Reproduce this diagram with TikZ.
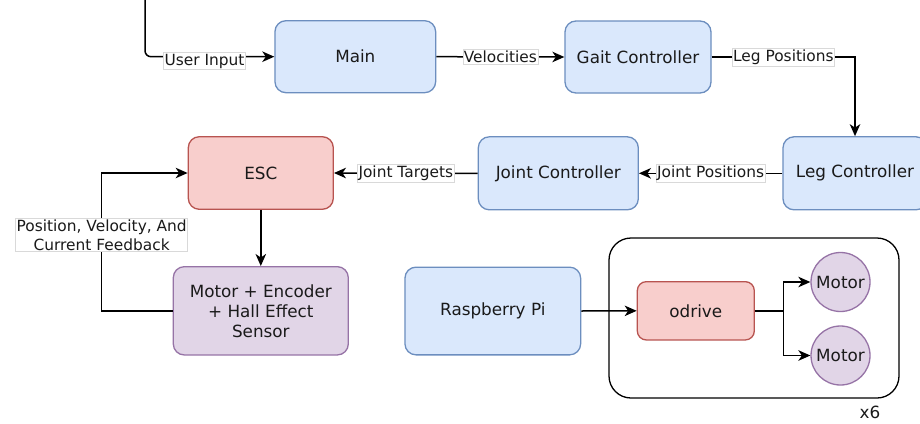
\documentclass[tikz,border=0pt]{standalone}
\usepackage{fontspec}
\setmainfont{DejaVu Sans}
\usetikzlibrary{arrows.meta}
\definecolor{blueF}{HTML}{DAE8FC}
\definecolor{blueD}{HTML}{6C8EBF}
\definecolor{redF}{HTML}{F8CECC}
\definecolor{redD}{HTML}{B85450}
\definecolor{purF}{HTML}{E1D5E7}
\definecolor{purD}{HTML}{9673A6}
\definecolor{txt}{HTML}{1A1A1A}
\begin{document}
\begin{tikzpicture}[x=1pt,y=-1pt,
  box/.style={rectangle, rounded corners=11pt, line width=1.3pt, align=center,
    font=\fontsize{16.8}{20}\selectfont, text=txt, inner sep=0pt},
  bluebox/.style={box, fill=blueF, draw=blueD},
  redbox/.style={box, fill=redF, draw=redD},
  purbox/.style={box, fill=purF, draw=purD},
  motorc/.style={circle, fill=purF, draw=purD, line width=1.3pt, minimum size=59pt,
    inner sep=0pt, font=\fontsize{16.8}{20}\selectfont, text=txt},
  wire/.style={line width=1.5pt, draw=black},
  arr/.style={wire, -{Stealth[length=12pt,width=10.5pt,inset=3.5pt]}},
  lbl/.style={fill=white, draw=gray!30, line width=0.5pt, align=center,
    font=\fontsize{15.4}{18.5}\selectfont, inner xsep=1pt, inner ysep=1.5pt, text=txt}
]
\useasboundingbox (0,0) rectangle (920,423);
\clip (0,0) rectangle (920,423);
\fill[white] (0,0) rectangle (920,423);

% upper control chain
\node[bluebox, minimum width=160.7pt, minimum height=72pt] (main) at (355.3,56.7) {Main};
\node[bluebox, minimum width=146pt, minimum height=72pt] (gait) at (638,57) {Gait Controller};
\node[bluebox, minimum width=144pt, minimum height=73pt] (leg) at (855,173.3) {Leg Controller};
\node[bluebox, minimum width=160pt, minimum height=73pt] (joint) at (558.3,173.3) {Joint Controller};
\node[redbox, minimum width=145pt, minimum height=72.6pt] (esc) at (260.8,173) {ESC};
\node[purbox, minimum width=175pt, minimum height=88.3pt] (motenc) at (260.8,310.8)
  {Motor + Encoder\\+ Hall Effect\\Sensor};

% hardware layout
\draw[line width=1.3pt, rounded corners=22pt] (609,238) rectangle (899,398);
\node[bluebox, minimum width=175.7pt, minimum height=87.7pt] (rpi) at (492.8,311) {Raspberry Pi};
\node[redbox, rounded corners=9pt, minimum width=117pt, minimum height=58.3pt] (odrive) at (695.8,310.8) {odrive};
\node[motorc] (m1) at (840.5,282) {Motor};
\node[motorc] (m2) at (840.5,355.5) {Motor};
\node[font=\fontsize{16.8}{20}\selectfont, text=txt] (x6) at (870,412) {x6};

% connectors
\coordinate (ui) at (145,-5);
\draw[arr, rounded corners=6pt] (ui) |- (main.west);
\node[lbl] (uil) at (204.5,61) {User Input};
\draw[arr] (main.east) -- node[lbl] {Velocities} (gait.west);
\draw[arr] (gait.east) -| node[lbl, pos=0.25] {Leg Positions} (leg.north);
\draw[arr] (leg.west) -- node[lbl] {Joint Positions} (joint.east);
\draw[arr] (joint.west) -- node[lbl] {Joint Targets} (esc.east);
\draw[arr] (esc.south) -- (motenc.north);
\coordinate (fb) at (101.7,310.8);
\draw[arr] (motenc.west) -- (fb) -- node[lbl, pos=0.55] {Position, Velocity, And\\Current Feedback} (fb |- esc.west) -- (esc.west);
\draw[arr] (rpi.east) -- (odrive.west);
\coordinate (br) at (783.3,310.8);
\draw[arr] (odrive.east) -- (br) |- (m1.west);
\draw[arr] (br) |- (m2.west);
\end{tikzpicture}
\end{document}
